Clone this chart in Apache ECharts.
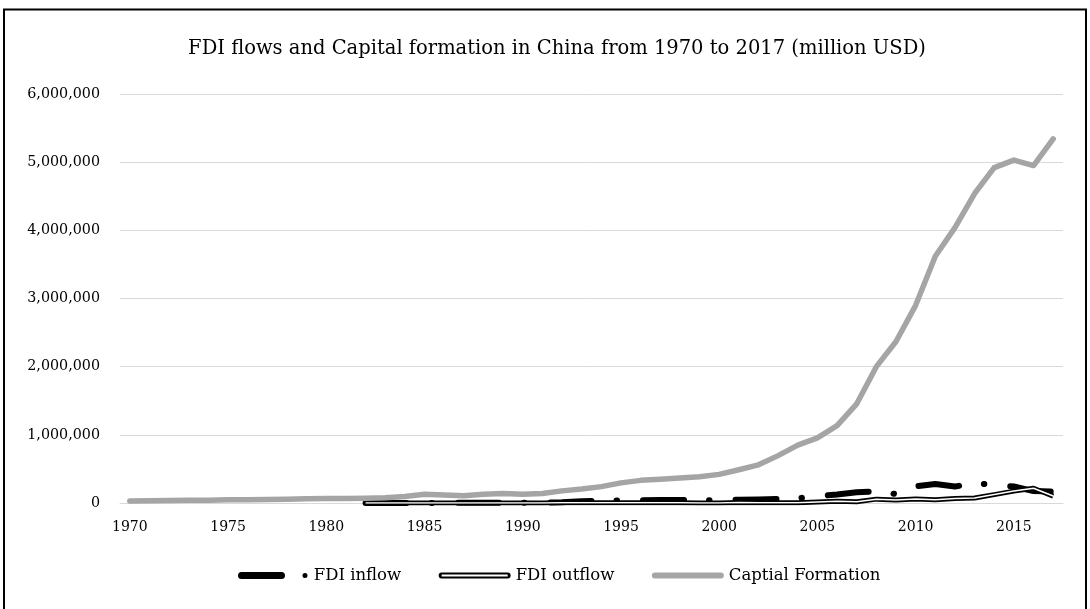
<!DOCTYPE html>
<html>
<head>
<meta charset="utf-8">
<script src="https://cdn.jsdelivr.net/npm/echarts@6/dist/echarts.min.js"></script>
<style>
html,body{margin:0;padding:0;background:#fff;}
#chart{width:1090px;height:609px;}
</style>
</head>
<body>
<div id="chart"></div>
<script>
// ---- data (million USD) ----
var years = [];
for (var y = 1970; y <= 2017; y++) years.push(String(y));

var fdiInflow = [
  null, null, null, null, null, null, null, null, null, null, null, null,
  430, 636, 1258, 1659, 1875, 2314, 3194, 3393, 3487, 4366,
  11156, 27515, 33787, 35849, 40180, 44237, 43751, 38753, 42095,
  47053, 53074, 57901, 68117, 104109, 124082, 156249, 171535, 131057,
  243703, 280072, 241214, 290928, 268097, 242489, 174750, 166084
];

var fdiOutflow = [
  null, null, null, null, null, null, null, null, null, null, null, null,
  44, 93, 134, 629, 450, 645, 850, 780, 830, 913,
  4000, 4400, 2000, 2000, 2114, 2563, 2634, 1775, 916,
  6885, 2518, 2855, 5498, 13730, 23933, 17155, 56742, 43890,
  57954, 48421, 64963, 72971, 123130, 174391, 216424, 101914
];

var capitalFormation = [
  30000, 33000, 35000, 40000, 42000, 48000, 46000, 51000, 55000, 62000,
  67000, 65000, 68000, 76000, 95000, 128000, 118000, 108000, 128000, 138000,
  128000, 140000, 178000, 205000, 240000, 295000, 332000, 350000, 365000, 385000,
  420000, 488000, 560000, 695000, 850000, 955000, 1135000, 1455000, 2000000, 2370000,
  2900000, 3620000, 4040000, 4540000, 4920000, 5030000, 4950000, 5340000
];

var seriesNames = ['FDI inflow', 'FDI outflow', 'Captial Formation'];
var yMin = 0, yMax = 6000000, yStep = 1000000;
var titleText = 'FDI flows and Capital formation in China from 1970 to 2017 (million USD)';

// ---- chart ----
var FONT = 'DejaVu Serif';
var chart = echarts.init(document.getElementById('chart'), null, {renderer: 'canvas'});

var inflowIcon = 'path://M3.5,0 H43.5 A3.5,3.5 0 0 1 43.5,7 H3.5 A3.5,3.5 0 0 1 3.5,0 Z M64.5,3.5 A2.5,2.5 0 1 0 69.5,3.5 A2.5,2.5 0 1 0 64.5,3.5 Z';
var outflowIcon = 'path://M3,0 H69 A3,3 0 0 1 69,6 H3 A3,3 0 0 1 3,0 Z M3,2 V4 H69 V2 Z';
var capIcon = 'path://M3,0 H69 A3,3 0 0 1 69,6 H3 A3,3 0 0 1 3,0 Z';

chart.setOption({
  animation: false,
  backgroundColor: '#fff',
  textStyle: {fontFamily: FONT},
  title: {
    text: titleText,
    left: 552,
    textAlign: 'center',
    top: 34,
    textStyle: {fontFamily: FONT, fontSize: 19.5, fontWeight: 'normal', color: '#000'}
  },
  legend: {
    left: 233,
    top: 562,
    itemWidth: 72,
    itemHeight: 7,
    itemGap: 37.5,
    textStyle: {fontFamily: FONT, fontSize: 16.5, color: '#000'},
    data: [
      {name: seriesNames[0], icon: inflowIcon, itemStyle: {color: '#000', borderWidth: 0}},
      {name: seriesNames[1], icon: outflowIcon, itemStyle: {color: '#000', borderWidth: 0}},
      {name: seriesNames[2], icon: capIcon, itemStyle: {color: '#a5a5a5', borderWidth: 0}}
    ]
  },
  grid: {left: 120, right: 27, top: 94, bottom: 106, containLabel: false},
  xAxis: {
    type: 'category',
    data: years,
    boundaryGap: true,
    axisLine: {lineStyle: {color: '#d9d9d9', width: 1}},
    axisTick: {show: false},
    axisLabel: {interval: 4, margin: 17, fontFamily: FONT, fontSize: 14, color: '#000'},
    splitLine: {show: false}
  },
  yAxis: {
    type: 'value',
    min: yMin, max: yMax, interval: yStep,
    axisLine: {show: false},
    axisTick: {show: false},
    axisLabel: {
      margin: 20, fontFamily: FONT, fontSize: 14.3, color: '#000',
      formatter: function (v) { return v.toLocaleString('en-US'); }
    },
    splitLine: {lineStyle: {color: '#d9d9d9', width: 1}}
  },
  series: [
    {
      name: seriesNames[0], type: 'line', data: fdiInflow, symbol: 'none', color: '#000',
      lineStyle: {color: '#000', width: 6, type: [41, 25, 0.5, 26], cap: 'round', join: 'round'},
      z: 2
    },
    {
      name: seriesNames[1], type: 'line', data: fdiOutflow, symbol: 'none', color: '#000',
      lineStyle: {color: '#000', width: 5, join: 'round'},
      z: 3
    },
    {
      name: seriesNames[1] + ' ', type: 'line', data: fdiOutflow, symbol: 'none', color: '#fff',
      lineStyle: {color: '#fff', width: 1.5, join: 'round'},
      z: 4, silent: true
    },
    {
      name: seriesNames[2], type: 'line', data: capitalFormation, symbol: 'none', color: '#a5a5a5',
      lineStyle: {color: '#a5a5a5', width: 5.5, cap: 'round', join: 'round'},
      z: 5
    }
  ],
  graphic: [{
    type: 'rect', silent: true, z: 100,
    shape: {x: 4, y: 9.5, width: 1082, height: 640},
    style: {fill: 'none', stroke: '#000', lineWidth: 2}
  }]
});
</script>
</body>
</html>
